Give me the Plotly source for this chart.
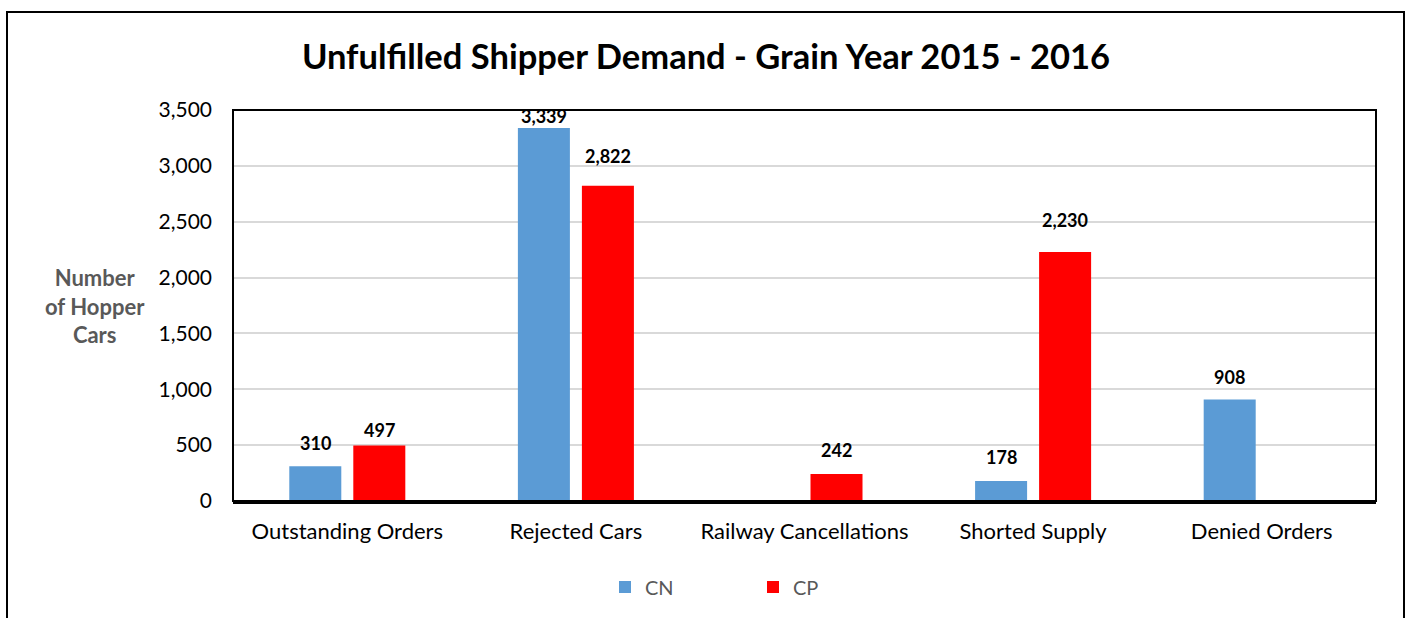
import plotly.graph_objects as go

categories = ["Outstanding Orders", "Rejected Cars", "Railway Cancellations", "Shorted Supply", "Denied Orders"]
cn_values = [310, 3339, None, 178, 908]
cp_values = [497, 2822, 242, 2230, None]
series_names = ["CN", "CP"]
y_ticks = [0, 500, 1000, 1500, 2000, 2500, 3000, 3500]

# label vertical offsets (style only, pixels above bar end)
cn_label_shift = [23, 12, 0, 24, 23]
cp_label_shift = [15, 30, 24, 32, 0]

W, H = 1406, 618
L, T = 233, 110
R = W - 1376
B = H - 501
FONT = "Lato"
pw = W - L - R
ph = H - T - B


def px_x(x):
    return (x - L) / pw


def px_y(y):
    return (H - B - y) / ph


fig = go.Figure()
colors = ["#5B9BD5", "#FF0000"]
for name, vals, col in zip(series_names, [cn_values, cp_values], colors):
    fig.add_trace(go.Bar(x=categories, y=vals, name=name, marker=dict(color=col, line=dict(width=0)),
                         offsetgroup=name))

annotations = []
for ti, (vals, shifts) in enumerate([(cn_values, cn_label_shift), (cp_values, cp_label_shift)]):
    for i, v in enumerate(vals):
        if v is None:
            continue
        annotations.append(dict(
            x=i + (-0.14 if ti == 0 else 0.14), y=v, xref="x", yref="y",
            text=f"<b>{v:,}</b>", showarrow=False, yshift=shifts[i],
            font=dict(family=FONT, size=18, color="#000000"),
            yanchor="middle", xanchor="center"))

annotations.append(dict(
    x=px_x(95), y=px_y(306), xref="paper", yref="paper",
    text="<b>Number<br>of Hopper<br>Cars</b>", showarrow=False,
    xanchor="center", yanchor="middle",
    font=dict(family=FONT, size=22, color="#595959"), align="center"))

fig.update_layout(
    width=W, height=H,
    margin=dict(l=L, r=R, t=T, b=B),
    paper_bgcolor="white", plot_bgcolor="white",
    font=dict(family=FONT, color="#000000"),
    title=dict(text="<b>Unfulfilled Shipper Demand - Grain Year 2015 - 2016</b>",
               x=706 / W, xanchor="center", y=1 - 57 / H, yanchor="middle",
               font=dict(family=FONT, size=34.5, color="#000000")),
    bargap=0.44, bargroupgap=0.1875, barmode="group",
    showlegend=True,
    legend=dict(orientation="h", xref="container", yref="container",
                x=605 / W, xanchor="left", y=(H - 587) / H, yanchor="middle",
                font=dict(family=FONT, size=20, color="#595959"),
                entrywidth=103, entrywidthmode="pixels"),
    annotations=annotations,
    shapes=[
        dict(type="rect", xref="paper", yref="paper",
             x0=0, x1=1, y0=0, y1=1, line=dict(color="#000000", width=2), layer="above"),
        dict(type="rect", xref="paper", yref="paper",
             x0=px_x(7), x1=px_x(1404), y0=px_y(650), y1=px_y(12),
             line=dict(color="#000000", width=2)),
    ],
)
fig.update_xaxes(showgrid=False, showline=True, linecolor="#000000", linewidth=3,
                 tickfont=dict(family=FONT, size=22, color="#000000"), ticks="",
                 ticklabelstandoff=9)
fig.update_yaxes(range=[0, 3500], tickvals=y_ticks, tickformat=",", showgrid=True,
                 gridcolor="#D9D9D9", gridwidth=2, zeroline=False, showline=False,
                 tickfont=dict(family=FONT, size=21, color="#000000"), ticks="",
                 ticklabelstandoff=20)

fig.write_html("out.html", config={"displayModeBar": False},
               post_script="document.body.style.margin='0';document.body.style.overflow='hidden';")
